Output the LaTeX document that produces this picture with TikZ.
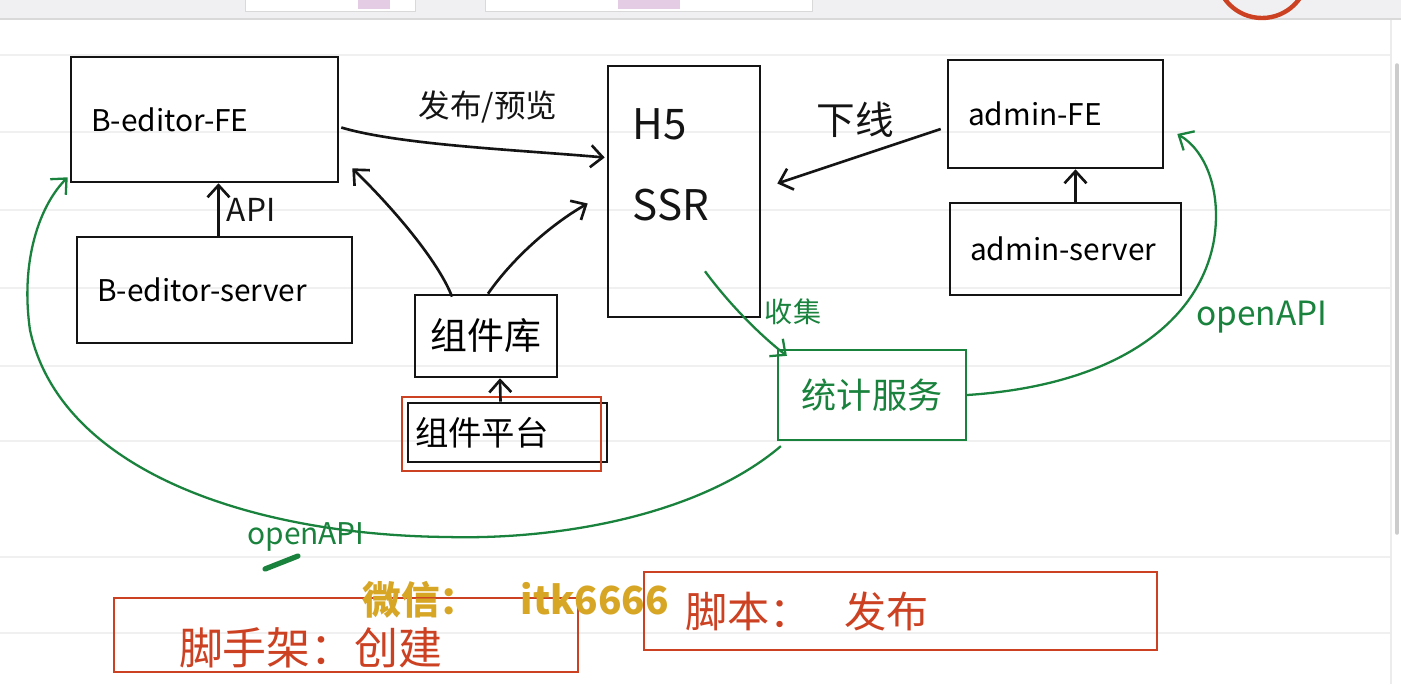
\documentclass[tikz,border=0pt]{standalone}
\usepackage{fontspec}
\newfontfamily\cjk{Noto Sans CJK SC}
\usetikzlibrary{arrows.meta,positioning,calc}
\definecolor{ink}{RGB}{20,20,20}
\definecolor{penGreen}{RGB}{25,130,60}
\definecolor{penRed}{RGB}{205,65,35}
\definecolor{wmGold}{RGB}{214,166,36}
\definecolor{barGray}{RGB}{240,240,242}
\tikzset{
    every node/.append style={align=center},
    box/.style={rectangle,draw=ink,line width=1.5pt,font=\cjk\fontsize{17}{21}\selectfont},
    gbox/.style={box,draw=penGreen,text=penGreen,line width=1.3pt},
    rbox/.style={box,draw=penRed,text=penRed,line width=1.3pt},
    hw/.style={text width=#1,align=left,inner xsep=0.4cm},
    arr/.style={-{Straight Barb[length=2.4mm,width=4.4mm]},line width=1.5pt,draw=ink},
    garr/.style={arr,draw=penGreen,line width=1.3pt},
    lbl/.style={font=\cjk\fontsize{18}{22}\selectfont,inner sep=1pt,text=ink},
    glbl/.style={lbl,text=penGreen},
    rule/.style={draw=gray!12,line width=0.6pt}
}

\begin{document}
\begin{tikzpicture}[x=0.02cm,y=-0.02cm]
    \useasboundingbox (0,0) rectangle (1401,684);
    \clip (0,0) rectangle (1401,684);
    % page
    \fill[white] (0,0) rectangle (1401,684);
    \foreach \y in {55,132,210,288,366,441,557,633}
        \draw[rule] (0,\y) -- (1390,\y);
    \draw[gray!15,line width=0.8pt] (1391,19) -- (1391,684);
    \draw[gray!40,line width=2pt,line cap=round] (1397,65) -- (1397,533);
    % toolbar
    \fill[barGray] (0,0) rectangle (1401,19);
    \draw[gray!30,line width=0.8pt] (0,19) -- (1401,19);
    \draw[gray!30,fill=white] (245,-5) rectangle (415,11);
    \draw[gray!30,fill=white] (485,-5) rectangle (812,11);
    \fill[violet!20] (358,-5) rectangle (390,9);
    \fill[violet!20] (618,-5) rectangle (680,9);
    \draw[penRed,line width=2.5pt] (1262,-28) circle (46);

    % left column
    \node[box,hw=4.54cm,minimum height=2.5cm]  (bfe)  at (204.5,119.5) {B-editor-FE};
    \node[box,hw=4.70cm,minimum height=2.12cm] (bsrv) at (214.5,290) {B-editor-server};
    % middle
    \node[box,minimum width=3.04cm,minimum height=5.02cm] (h5) at (684,191.5) {};
    \node[lbl,font=\cjk\fontsize{24}{29}\selectfont,anchor=north west,align=left] (h5txt)
        at ($(h5.north west)+(24,42)$) {H5\\[0.6cm]SSR};
    \node[box,font=\cjk\fontsize{21}{25}\selectfont,minimum width=2.84cm,minimum height=1.64cm] (lib) at (486,336) {组件库};
    \node[box,font=\cjk\fontsize{19}{23}\selectfont,text width=3.7cm,align=left,inner xsep=0.14cm,minimum height=1.18cm] (plat) at (507.5,432.5) {组件平台};
    \draw[penRed,line width=1.3pt] ($(plat.north west)+(-5,-5)$) rectangle ($(plat.south east)+(-7,8)$);
    % right column
    \node[box,hw=3.50cm,minimum height=2.16cm] (afe)  at (1055.5,114) {admin-FE};
    \node[box,hw=3.82cm,minimum height=1.84cm] (asrv) at (1065.5,249) {admin-server};
    \node[gbox,font=\cjk\fontsize{20}{24}\selectfont,minimum width=3.76cm,minimum height=1.8cm] (stat) at (872,395) {统计服务};
    % bottom
    \node[rbox,font=\cjk\fontsize{25}{30}\selectfont,text width=6.68cm,align=left,inner xsep=1.3cm,inner ysep=0pt,
        minimum height=1.48cm,text height=1.25cm] (scaf) at (346,635) {脚手架：创建};
    \node[rbox,font=\cjk\fontsize{24}{29}\selectfont,text width=8.62cm,align=left,inner xsep=0.82cm,minimum height=1.56cm] (pub) at (900.5,611) {脚本：\hspace{0.66cm}发布};
    \node[anchor=west,text=wmGold,font=\cjk\bfseries\fontsize{22}{26}\selectfont,inner sep=0pt] (wm) at (362,600) {微信：\hspace{0.85cm}itk6666};

    % black arrows
    \draw[arr] ($(bsrv.north)+(4,0)$) -- node[lbl,right=3pt,font=\cjk\fontsize{18}{22}\selectfont]{API} ($(bfe.south)+(14,0)$);
    \draw[arr] ($(bfe.east)+(2,8)$) .. controls (400,145) and (520,150) .. ($(h5.west)+(-2,-34)$);
    \node[lbl] (pubLbl) at (488,107) {发布/预览};
    \draw[arr] ($(lib.north)+(-34,3)$) .. controls (440,265) and (400,215) .. ($(bfe.south east)+(13,-15)$);
    \draw[arr] ($(lib.north)+(2,0)$) .. controls (515,255) and (555,222) .. ($(h5.west)+(-19,12)$);
    \draw[arr] ($(plat.north)+(-7,0)$) -- ($(lib.south)+(14,0)$);
    \draw[arr] ($(afe.west)+(-6,15)$) -- ($(h5.east)+(16,-8)$);
    \node[lbl,font=\cjk\fontsize{22}{26}\selectfont] (offLbl) at (855,120) {下线};
    \draw[arr] ($(asrv.north)+(10,0)$) -- ($(afe.south)+(20,0)$);

    % green arrows
    \draw[garr] ($(h5.south)+(21,-47)$) .. controls (730,305) and (760,335) .. ($(stat.north west)+(10,7)$);
    \node[glbl,font=\cjk\fontsize{16}{20}\selectfont] (collLbl) at (793,312) {收集};
    \draw[garr] (stat.east) .. controls (1120,385) and (1200,320) .. (1214,240)
        .. controls (1222,190) and (1205,150) .. ($(afe.east)+(13,20)$);
    \node[glbl,font=\cjk\fontsize{19}{23}\selectfont] (apiR) at (1262,317) {openAPI};
    \draw[garr] ($(stat.south west)+(4,5)$) .. controls (700,515) and (560,540) .. (447,537)
        .. controls (250,535) and (60,470) .. (30,330)
        .. controls (20,260) and (40,205) .. ($(bfe.south west)+(-2,-6)$);
    \node[glbl,font=\cjk\fontsize{17}{21}\selectfont] (apiL) at (306,537) {openAPI};
    \draw[penGreen,line width=3pt,line cap=round] (265,569) -- (298,556);
\end{tikzpicture}
\end{document}
